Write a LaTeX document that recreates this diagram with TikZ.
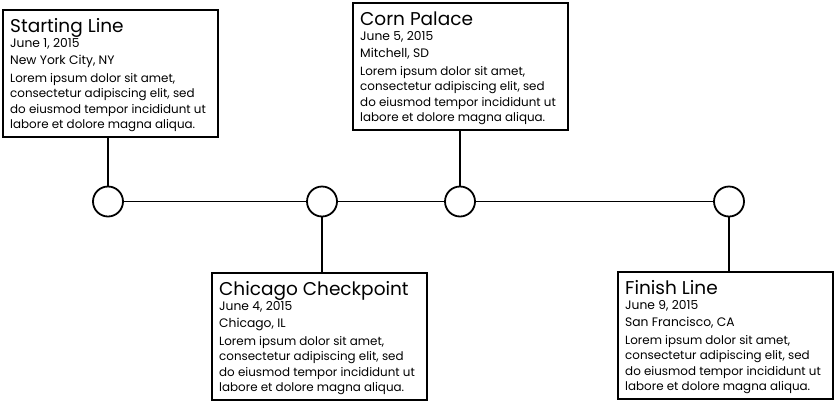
\documentclass[tikz,border=0pt]{standalone}
\usepackage{fontspec}
\setmainfont{Poppins}
\tikzset{
  evbox/.style={draw, line width=2pt, fill=white, inner sep=0pt, minimum width=215pt, minimum height=127pt, anchor=north west},
  evtitle/.style={anchor=base west, inner sep=0pt, font=\fontsize{18.5}{20}\selectfont},
  evsmall/.style={anchor=base west, inner sep=0pt, font=\fontsize{12.3}{14}\selectfont},
  evbody/.style={anchor=base west, inner sep=0pt},
  dot/.style={draw, circle, line width=1.8pt, fill=white, minimum size=30pt, inner sep=0pt},
  stem/.style={line width=2pt},
  axis/.style={line width=1.5pt}
}
\newcommand\eventbox[6]{%
  \node[evbox] (#1) at (#2,#3) {};
  \node[evtitle] (#1t) at ([xshift=8pt,yshift=-23pt]#1.north west) {#4};
  \node[evsmall] (#1d) at ([xshift=8pt,yshift=-38pt]#1.north west) {#5};
  \node[evsmall] (#1c) at ([xshift=8pt,yshift=-55pt]#1.north west) {#6};
  \node[evbody] (#1b) at ([xshift=8pt,yshift=-73pt]#1.north west)
    {\parbox[t]{205pt}{\fontsize{11.9}{15.5}\selectfont Lorem ipsum dolor sit amet,\\consectetur adipiscing elit, sed\\do eiusmod tempor incididunt ut\\labore et dolore magna aliqua.}};
}
\begin{document}
\begin{tikzpicture}[x=1pt,y=-1pt]
\useasboundingbox (0,0) rectangle (834,402);
\node[dot] (c1) at (108,201.5) {};
\node[dot] (c2) at (322,201.5) {};
\node[dot] (c3) at (460,201.5) {};
\node[dot] (c4) at (729,201.5) {};
\draw[axis] (c1) -- (c2);
\draw[axis] (c2) -- (c3);
\draw[axis] (c3) -- (c4);
\eventbox{b1}{2}{9}{Starting Line}{June 1, 2015}{New York City, NY}
\eventbox{b2}{352}{2}{Corn Palace}{June 5, 2015}{Mitchell, SD}
\eventbox{b3}{211}{272}{Chicago Checkpoint}{June 4, 2015}{Chicago, IL}
\eventbox{b4}{617}{271}{Finish Line}{June 9, 2015}{San Francisco, CA}
\draw[stem] (b1.south -| c1) -- (c1.north);
\draw[stem] (b2.south -| c3) -- (c3.north);
\draw[stem] (c2.south) -- (b3.north -| c2);
\draw[stem] (c4.south) -- (b4.north -| c4);
\end{tikzpicture}
\end{document}
